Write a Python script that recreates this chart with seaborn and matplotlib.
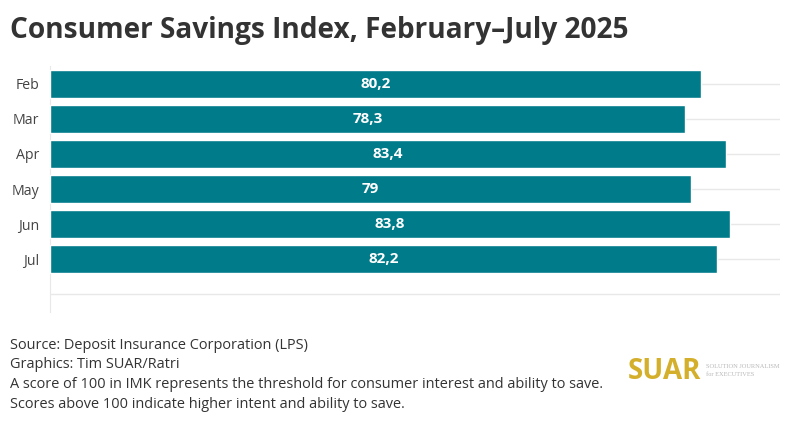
import numpy as np
import pandas as pd
import matplotlib
matplotlib.use('Agg')
import matplotlib.pyplot as plt
import seaborn as sns

months = ['Feb', 'Mar', 'Apr', 'May', 'Jun', 'Jul']
index_values = [80.2, 78.3, 83.4, 79, 83.8, 82.2]

title = 'Consumer Savings Index, February\u2013July 2025'
footer_lines = [
    'Source: Deposit Insurance Corporation (LPS)',
    'Graphics: Tim SUAR/Ratri',
    'A score of 100 in IMK represents the threshold for consumer interest and ability to save.',
    'Scores above 100 indicate higher intent and ability to save.',
]

bar_color = '#007b8a'
text_dark = '#333333'

sns.set_style('white')
plt.rcParams['font.family'] = ['Open Sans', 'DejaVu Sans']

df = pd.DataFrame({'month': months, 'value': index_values})

fig = plt.figure(figsize=(7.94, 4.21), dpi=100)
ax = fig.add_axes([50 / 794, 1 - 312 / 421, 730 / 794, 246 / 421])

sns.barplot(data=df, x='value', y='month', orient='h', color=bar_color,
            saturation=1, width=0.8, ax=ax, zorder=3)

# light grid at each category plus one empty slot below
ax.set_ylim(6.5, -0.5)
ax.set_yticks(range(7))
ax.set_yticklabels(months + [''])
ax.set_xlim(0, 90)
ax.set_xticks([])
ax.grid(axis='y', color='#e8e8e8', linewidth=1, zorder=0)
ax.set_axisbelow(True)
ax.set_xlabel('')
ax.set_ylabel('')
for s in ['top', 'right', 'bottom']:
    ax.spines[s].set_visible(False)
ax.spines['left'].set_color('#e8e8e8')
ax.tick_params(axis='y', length=5, color='#e8e8e8', labelsize=10.2,
               labelcolor='#444444', pad=3)

for i, v in enumerate(index_values):
    lbl = ('%g' % v).replace('.', ',')
    ax.text(v / 2, i, lbl, ha='center', va='center', color='white',
            fontsize=11, fontweight='bold', zorder=4)

fig.text(10 / 794, 1 - 38 / 421, title, fontsize=20.2, fontweight='bold',
         color=text_dark, va='baseline')

for k, line in enumerate(footer_lines):
    fig.text(10 / 794, 1 - (349 + k * 19.5) / 421, line, fontsize=10.45,
             color=text_dark, va='baseline')

# SUAR logo text
fig.text(628 / 794, 1 - 379 / 421, 'SUAR', fontsize=20, fontweight='bold',
         color='#d4af2c', va='baseline')
fig.text(706 / 794, 1 - 368 / 421, 'SOLUTION JOURNALISM', fontsize=4.6,
         color='#b8b8b8', family=['Liberation Serif'], va='baseline')
fig.text(706 / 794, 1 - 376 / 421, 'for EXECUTIVES', fontsize=4.6,
         color='#b8b8b8', family=['Liberation Serif'], va='baseline')

fig.savefig('out.png', dpi=100)
